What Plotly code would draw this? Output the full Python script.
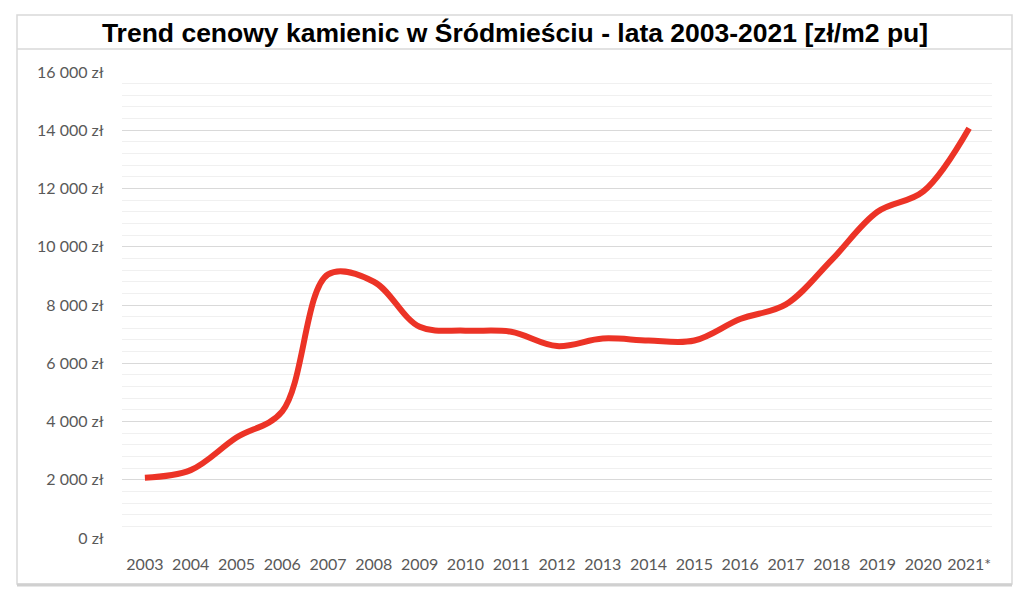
import plotly.graph_objects as go

YEARS = ["2003", "2004", "2005", "2006", "2007", "2008", "2009", "2010", "2011", "2012",
         "2013", "2014", "2015", "2016", "2017", "2018", "2019", "2020", "2021*"]
PRICES = [2070, 2330, 3450, 4350, 9050, 8800, 7250, 7120, 7080, 6590,
          6850, 6780, 6780, 7520, 8020, 9550, 11200, 11900, 14070]
Y_TICKS = [0, 2000, 4000, 6000, 8000, 10000, 12000, 14000, 16000]
Y_TICK_LABELS = ["0 zł", "2 000 zł", "4 000 zł", "6 000 zł", "8 000 zł",
                 "10 000 zł", "12 000 zł", "14 000 zł", "16 000 zł"]
TITLE = "Trend cenowy kamienic w Śródmieściu - lata 2003-2021 [zł/m2 pu]"

# the page body adds an 8px margin, so work in screen pixels and shift back
OFF = 8
W, H = 1024 - OFF, 596 - OFF
L, R, T, B = 122 - OFF, 1024 - 992, 72 - OFF, 596 - 538
PW, PH = W - L - R, H - T - B


def px_x(x):
    return (x - OFF - L) / PW


def px_y(y):
    return (H - B - (y - OFF)) / PH


def main() -> None:
    fig = go.Figure(
        go.Scatter(
            x=YEARS,
            y=PRICES,
            mode="lines",
            line=dict(color="#ec3326", width=6, shape="spline", smoothing=1.0),
            hoverinfo="x+y",
        )
    )

    tick_font = dict(family="Lato, 'Liberation Sans', sans-serif", size=16, color="#595959")
    fig.update_layout(
        width=W,
        height=H,
        margin=dict(l=L, r=R, t=T, b=B, autoexpand=False),
        paper_bgcolor="white",
        plot_bgcolor="white",
        showlegend=False,
        title=dict(
            text=f"<b>{TITLE}</b>",
            font=dict(family="'Liberation Sans', Arial, sans-serif", size=26.5, color="black"),
            x=(515 - OFF) / W, xref="container", xanchor="center",
            y=1 - (33 - OFF) / H, yref="container", yanchor="middle",
        ),
        xaxis=dict(
            type="category",
            range=[-0.5, len(YEARS) - 0.5],
            showgrid=False,
            showline=False,
            ticks="outside",
            ticklen=12,
            tickcolor="rgba(0,0,0,0)",
            tickfont=tick_font,
            fixedrange=True,
        ),
        yaxis=dict(
            range=[0, 16000],
            tickvals=Y_TICKS,
            ticktext=Y_TICK_LABELS,
            showgrid=True,
            gridcolor="#d9d9d9",
            gridwidth=1,
            zeroline=False,
            showline=False,
            ticks="outside",
            ticklen=14,
            tickcolor="rgba(0,0,0,0)",
            tickfont=tick_font,
            minor=dict(dtick=400, showgrid=True, gridcolor="#f0f0f0", gridwidth=1),
            fixedrange=True,
        ),
        shapes=[
            # outer chart border
            dict(type="rect", xref="paper", yref="paper",
                 x0=px_x(17), x1=px_x(1012), y0=px_y(584), y1=px_y(15),
                 line=dict(color="#d9d9d9", width=1.5), layer="below"),
            # heavier bottom edge (shadow)
            dict(type="line", xref="paper", yref="paper",
                 x0=px_x(17), x1=px_x(1012), y0=px_y(585), y1=px_y(585),
                 line=dict(color="#d0d0d0", width=3)),
            # line under the title
            dict(type="line", xref="paper", yref="paper",
                 x0=px_x(17), x1=px_x(1012), y0=px_y(49), y1=px_y(49),
                 line=dict(color="#d9d9d9", width=1.5)),
        ],
    )

    fig.write_html("out.html")


if __name__ == "__main__":
    main()
